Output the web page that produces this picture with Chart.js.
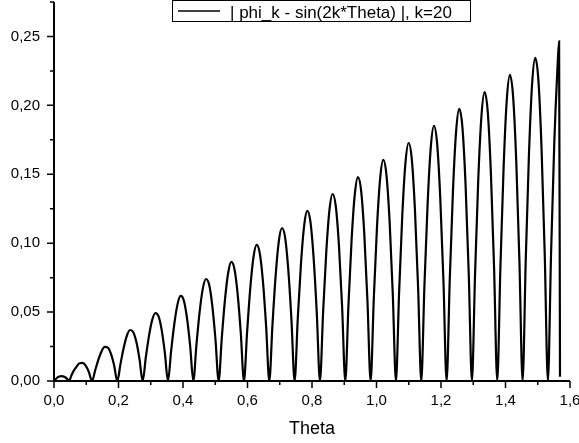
<!DOCTYPE html>
<html><head><meta charset="utf-8">
<script src="https://cdn.jsdelivr.net/npm/chart.js@4/dist/chart.umd.min.js"></script>
<style>html,body{margin:0;padding:0;background:#fff}#wrap{width:579px;height:443px;position:relative}</style>
</head><body><div id="wrap"><canvas id="c" width="579" height="443"></canvas></div>
<script>
const thetaValues = [
 0, 0.0080, 0.0160, 0.0240, 0.0320, 0.0400, 0.0465,
 0.0540, 0.0589, 0.0687, 0.0785, 0.0884, 0.0982, 0.1080, 0.1178,
 0.1276, 0.1374, 0.1473, 0.1571, 0.1669, 0.1767, 0.1865, 0.1963,
 0.2062, 0.2160, 0.2258, 0.2356, 0.2454, 0.2553, 0.2651, 0.2749,
 0.2847, 0.2945, 0.3043, 0.3142, 0.3240, 0.3338, 0.3436, 0.3534,
 0.3632, 0.3731, 0.3829, 0.3927, 0.4025, 0.4123, 0.4222, 0.4320,
 0.4418, 0.4516, 0.4614, 0.4712, 0.4811, 0.4909, 0.5007, 0.5105,
 0.5203, 0.5301, 0.5400, 0.5498, 0.5596, 0.5694, 0.5792, 0.5890,
 0.5989, 0.6087, 0.6185, 0.6283, 0.6381, 0.6480, 0.6578, 0.6676,
 0.6774, 0.6872, 0.6970, 0.7069, 0.7167, 0.7265, 0.7363, 0.7461,
 0.7559, 0.7658, 0.7756, 0.7854, 0.7952, 0.8050, 0.8149, 0.8247,
 0.8345, 0.8443, 0.8541, 0.8639, 0.8738, 0.8836, 0.8934, 0.9032,
 0.9130, 0.9228, 0.9327, 0.9425, 0.9523, 0.9621, 0.9719, 0.9818,
 0.9916, 1.0014, 1.0112, 1.0210, 1.0308, 1.0407, 1.0505, 1.0603,
 1.0701, 1.0799, 1.0897, 1.0996, 1.1094, 1.1192, 1.1290, 1.1388,
 1.1486, 1.1585, 1.1683, 1.1781, 1.1879, 1.1977, 1.2076, 1.2174,
 1.2272, 1.2370, 1.2468, 1.2566, 1.2665, 1.2763, 1.2861, 1.2959,
 1.3057, 1.3155, 1.3254, 1.3352, 1.3450, 1.3548, 1.3646, 1.3744,
 1.3843, 1.3941, 1.4039, 1.4137, 1.4235, 1.4334, 1.4432, 1.4530,
 1.4628, 1.4726, 1.4824, 1.4923, 1.5021, 1.5119, 1.5217, 1.5315,
 1.5413, 1.5512, 1.5610, 1.5662, 1.5690
];
const errValues = [
 0, 0.0020, 0.0032, 0.0036, 0.0031, 0.0017, 0,
 0.0040, 0.0065, 0.0100, 0.0128, 0.0132, 0.0112, 0.0066, 0,
 0.0077, 0.0153, 0.0214, 0.0247, 0.0242, 0.0196, 0.0112, 0,
 0.0124, 0.0240, 0.0328, 0.0370, 0.0356, 0.0284, 0.0159, 0,
 0.0171, 0.0327, 0.0442, 0.0493, 0.0470, 0.0371, 0.0207, 0,
 0.0218, 0.0414, 0.0556, 0.0617, 0.0584, 0.0458, 0.0254, 0,
 0.0266, 0.0502, 0.0670, 0.0740, 0.0698, 0.0545, 0.0301, 0,
 0.0313, 0.0589, 0.0784, 0.0864, 0.0812, 0.0632, 0.0348, 0,
 0.0360, 0.0676, 0.0898, 0.0987, 0.0926, 0.0720, 0.0395, 0,
 0.0407, 0.0763, 0.1012, 0.1110, 0.1040, 0.0807, 0.0443, 0,
 0.0454, 0.0851, 0.1126, 0.1234, 0.1154, 0.0894, 0.0490, 0,
 0.0502, 0.0938, 0.1240, 0.1357, 0.1268, 0.0981, 0.0537, 0,
 0.0549, 0.1025, 0.1354, 0.1480, 0.1382, 0.1069, 0.0584, 0,
 0.0596, 0.1112, 0.1467, 0.1604, 0.1496, 0.1156, 0.0631, 0,
 0.0643, 0.1199, 0.1581, 0.1727, 0.1610, 0.1243, 0.0679, 0,
 0.0690, 0.1287, 0.1695, 0.1851, 0.1724, 0.1330, 0.0726, 0,
 0.0738, 0.1374, 0.1809, 0.1974, 0.1838, 0.1418, 0.0773, 0,
 0.0785, 0.1461, 0.1923, 0.2097, 0.1952, 0.1505, 0.0820, 0,
 0.0832, 0.1548, 0.2037, 0.2221, 0.2066, 0.1592, 0.0868, 0,
 0.0879, 0.1636, 0.2151, 0.2344, 0.2180, 0.1679, 0.0915, 0,
 0.0927, 0.1723, 0.2265, 0.2465, 0.0030
];
const xMajorTicks = [0, 0.2, 0.4, 0.6, 0.8, 1.0, 1.2, 1.4, 1.6];
const xMinorTicks = [0.1, 0.3, 0.5, 0.7, 0.9, 1.1, 1.3, 1.5];
const yMajorTicks = [0, 0.05, 0.10, 0.15, 0.20, 0.25];
const yMinorTicks = [0.025, 0.075, 0.125, 0.175, 0.225, 0.275];
const seriesLabel = '| phi_k - sin(2k*Theta) |, k=20';
const xAxisTitle = 'Theta';

const FONT = '"Liberation Sans", Arial, Helvetica, sans-serif';
const points = thetaValues.map((t, i) => ({x: t, y: errValues[i]}));
const fmt = (v, d) => v.toFixed(d).replace('.', ',');

const axesPlugin = {
  id: 'axesPlugin',
  afterDraw(chart) {
    const ctx = chart.ctx;
    const xs = chart.scales.x, ys = chart.scales.y;
    ctx.save();
    ctx.strokeStyle = '#000';
    ctx.lineWidth = 2;
    ctx.beginPath();
    const x0 = xs.getPixelForValue(0), y0 = ys.getPixelForValue(0);
    const yTop = ys.getPixelForValue(ys.max);
    const xRight = xs.getPixelForValue(xs.max);
    ctx.moveTo(x0, yTop); ctx.lineTo(x0, y0); ctx.lineTo(xRight, y0);
    ctx.stroke();
    ctx.lineWidth = 1.5;
    ctx.beginPath();
    xMajorTicks.forEach(v => { const p = xs.getPixelForValue(v); ctx.moveTo(p, y0); ctx.lineTo(p, y0 + 7); });
    xMinorTicks.forEach(v => { const p = xs.getPixelForValue(v); ctx.moveTo(p, y0); ctx.lineTo(p, y0 + 4); });
    yMajorTicks.forEach(v => { const p = ys.getPixelForValue(v); ctx.moveTo(x0, p); ctx.lineTo(x0 - 7, p); });
    yMinorTicks.forEach(v => { const p = ys.getPixelForValue(v); ctx.moveTo(x0, p); ctx.lineTo(x0 - 4, p); });
    ctx.stroke();

    // legend
    const lx = 172.5, ly = 0.5, lw = 298, lh = 21;
    ctx.fillStyle = '#fff';
    ctx.fillRect(lx, ly, lw, lh);
    ctx.lineWidth = 1;
    ctx.strokeStyle = '#000';
    ctx.strokeRect(lx, ly, lw, lh);
    ctx.lineWidth = 1.5;
    ctx.beginPath(); ctx.moveTo(178, 11); ctx.lineTo(220, 11); ctx.stroke();
    ctx.fillStyle = '#000';
    ctx.font = '17px ' + FONT;
    ctx.textBaseline = 'alphabetic';
    ctx.textAlign = 'left';
    ctx.fillText(seriesLabel, 230, 17.5);
    ctx.restore();
  }
};

new Chart(document.getElementById('c'), {
  type: 'line',
  data: {
    datasets: [{
      label: seriesLabel,
      data: points,
      borderColor: '#000',
      borderWidth: 2.2,
      pointRadius: 0,
      fill: false,
      cubicInterpolationMode: 'monotone'
    }]
  },
  options: {
    responsive: false,
    animation: false,
    devicePixelRatio: 1,
    layout: {padding: {top: 2, right: 9, left: 0, bottom: 0}},
    plugins: {legend: {display: false}, tooltip: {enabled: false}},
    scales: {
      x: {
        type: 'linear', min: 0, max: 1.6,
        border: {display: false},
        grid: {display: false, drawTicks: false},
        ticks: {
          stepSize: 0.2, autoSkip: false, maxRotation: 0, padding: 11,
          color: '#000', font: {family: FONT, size: 15},
          callback: v => fmt(v, 1)
        },
        title: {display: true, text: xAxisTitle, color: '#000', font: {family: FONT, size: 18}, padding: {top: 0, bottom: 3}},
        afterFit: s => { s.height = 62; s.paddingLeft = 0; s.paddingRight = 0; }
      },
      y: {
        min: 0, max: 0.275,
        border: {display: false},
        grid: {display: false, drawTicks: false},
        ticks: {
          stepSize: 0.025, autoSkip: false, padding: 14,
          color: '#000', font: {family: FONT, size: 15},
          callback: v => (Math.round(v / 0.025) % 2 === 0 ? fmt(v, 2) : '')
        },
        afterFit: s => { s.width = 54; s.paddingTop = 0; s.paddingBottom = 0; }
      }
    }
  },
  plugins: [axesPlugin]
});
</script>
</body></html>
